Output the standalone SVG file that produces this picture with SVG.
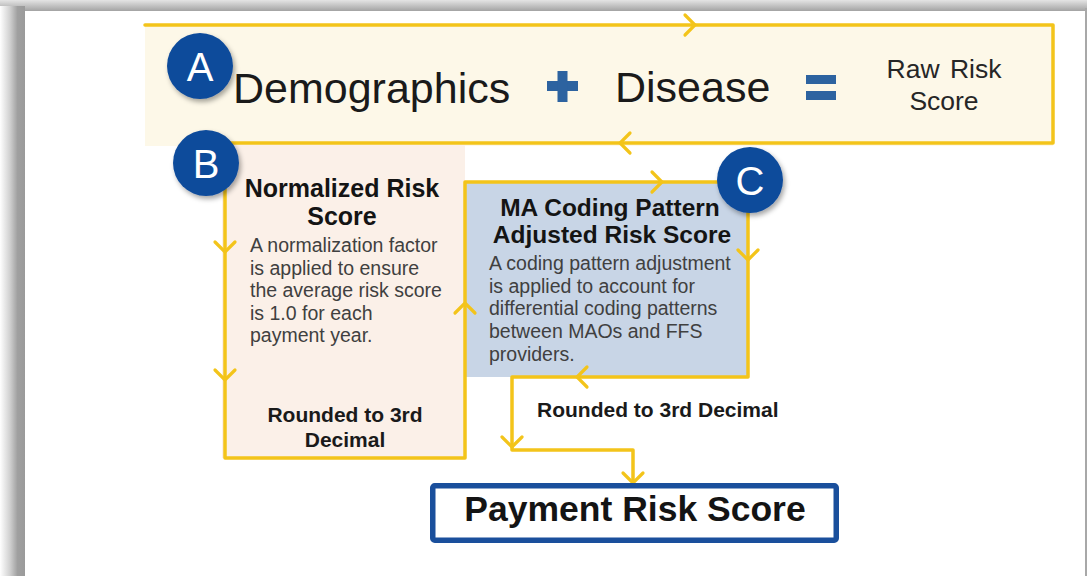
<svg xmlns="http://www.w3.org/2000/svg" width="1087" height="576" viewBox="0 0 1087 576">
<defs>
<linearGradient id="gTop" x1="0" y1="0" x2="0" y2="1">
<stop offset="0" stop-color="#e4e4e4"/><stop offset="1" stop-color="#a3a3a3"/>
</linearGradient>
<linearGradient id="gLeft" x1="0" y1="0" x2="1" y2="0">
<stop offset="0" stop-color="#ffffff"/><stop offset="0.4" stop-color="#d0d0d0"/><stop offset="0.7" stop-color="#a0a0a0"/><stop offset="1" stop-color="#9a9a9a"/>
</linearGradient>
<filter id="sh" x="-30%" y="-30%" width="170%" height="170%">
<feDropShadow dx="2" dy="3" stdDeviation="2.5" flood-color="#000" flood-opacity="0.35"/>
</filter>
<style>
.flow{fill:none;stroke:#f3c41a;stroke-width:3.5;stroke-linejoin:round;stroke-linecap:round}
.chev{fill:none;stroke:#f3c41a;stroke-width:3.2;stroke-linejoin:miter;stroke-linecap:round}
.badge{fill:#0f4b9b;filter:url(#sh)}
.bl{font-family:"Liberation Sans",Arial,sans-serif;font-size:40px;fill:#ffffff;text-anchor:middle}
.big{font-family:"Liberation Sans",Arial,sans-serif;font-size:43px;fill:#1a1a1a}
.raw{font-family:"Liberation Sans",Arial,sans-serif;font-size:26.5px;fill:#262626;text-anchor:middle}
.ttl{font-family:"Liberation Sans",Arial,sans-serif;font-weight:bold;fill:#141414;text-anchor:middle}
.body{font-family:"Liberation Sans",Arial,sans-serif;font-size:19.5px;fill:#404040}
.rnd{font-family:"Liberation Sans",Arial,sans-serif;font-weight:bold;font-size:21px;fill:#1a1a1a}
.op{fill:#2d63a0}
</style>
</defs>
<rect x="0" y="0" width="1087" height="576" fill="#ffffff"/>
<rect x="0" y="0" width="1087" height="11" fill="url(#gTop)"/>
<rect x="0" y="6" width="25" height="570" fill="url(#gLeft)"/>
<rect x="1085" y="8" width="2" height="568" fill="#a8a8a8"/>

<g id="nodeA">
<rect x="145" y="25" width="908" height="121" fill="#fdf8e8"/>
<text class="big" x="233" y="103">Demographics</text>
<rect class="op" x="547" y="81" width="31" height="10"/>
<rect class="op" x="557.5" y="71" width="10" height="31"/>
<text class="big" x="615" y="102">Disease</text>
<rect class="op" x="806" y="75" width="30" height="9"/>
<rect class="op" x="806" y="91" width="30" height="9"/>
<text class="raw" x="944" y="78" word-spacing="3">Raw Risk</text>
<text class="raw" x="944" y="110">Score</text>
</g>

<g id="nodeB">
<rect x="222" y="145" width="243" height="313" fill="#fbf0e8"/>
<text class="ttl" x="342" y="197" font-size="25">Normalized Risk</text>
<text class="ttl" x="342" y="225" font-size="25">Score</text>
<text class="body" x="250" y="252">A normalization factor</text>
<text class="body" x="250" y="274.5">is applied to ensure</text>
<text class="body" x="250" y="297">the average risk score</text>
<text class="body" x="250" y="319.5">is 1.0 for each</text>
<text class="body" x="250" y="342">payment year.</text>
<text class="rnd" x="345" y="422" text-anchor="middle">Rounded to 3rd</text>
<text class="rnd" x="345" y="447" text-anchor="middle">Decimal</text>
</g>

<g id="nodeC">
<rect x="465" y="182" width="283" height="195" fill="#c8d5e6"/>
<text class="ttl" x="610" y="216" font-size="24.5">MA Coding Pattern</text>
<text class="ttl" x="612" y="243" font-size="24.5">Adjusted Risk Score</text>
<text class="body" x="489" y="270">A coding pattern adjustment</text>
<text class="body" x="489" y="292.7">is applied to account for</text>
<text class="body" x="489" y="315.3">differential coding patterns</text>
<text class="body" x="489" y="338">between MAOs and FFS</text>
<text class="body" x="489" y="360.7">providers.</text>
</g>

<g id="connectors">
<path class="flow" d="M145,25 H1053 V143 H225 V458 H465 V182 H748 V377 H512 V450 H633 V482"/>
<path class="chev" d="M685,15 L695,25 L685,35"/>
<path class="chev" d="M630,133 L620,143 L630,153"/>
<path class="chev" d="M215,242 L225,252 L235,242"/>
<path class="chev" d="M215,370 L225,380 L235,370"/>
<path class="chev" d="M455,313 L465,303 L475,313"/>
<path class="chev" d="M652,172 L662,182 L652,192"/>
<path class="chev" d="M738,250 L748,260 L758,250"/>
<path class="chev" d="M587,367 L577,377 L587,387"/>
<path class="chev" d="M502,437 L512,447 L522,437"/>
<path class="chev" d="M623,473 L633,483 L643,473"/>
<text class="rnd" x="537" y="417" font-size="21.4">Rounded to 3rd Decimal</text>
</g>

<g id="badgeA"><circle class="badge" cx="200" cy="66" r="33"/><text class="bl" x="200" y="80.5">A</text></g>
<g id="badgeB"><circle class="badge" cx="206" cy="163" r="33"/><text class="bl" x="206" y="177.5">B</text></g>
<g id="badgeC"><circle class="badge" cx="750" cy="180" r="33"/><text class="bl" x="750" y="194.5">C</text></g>

<g id="nodePayment">
<rect x="432.75" y="485.75" width="403.5" height="54.5" rx="2" fill="#ffffff" stroke="#1a4f9c" stroke-width="5.5"/>
<text class="ttl" x="635" y="521" font-size="35.5">Payment Risk Score</text>
</g>
</svg>
